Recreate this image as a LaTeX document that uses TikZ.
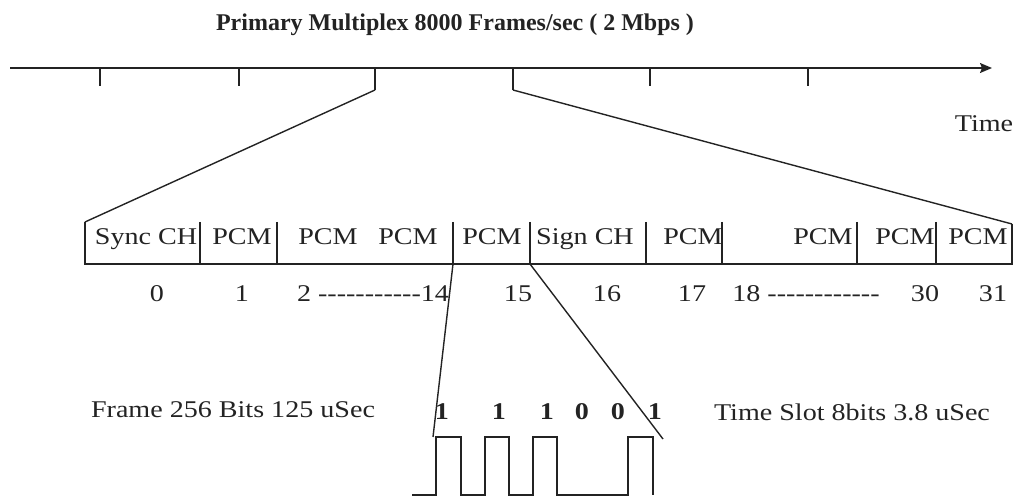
\documentclass[tikz,border=0pt]{standalone}
\usepackage{fontspec}
\setmainfont{Liberation Serif}
\newfontfamily\wideserif[FakeStretch=1.17]{Liberation Serif}
\usetikzlibrary{arrows.meta,positioning}
\definecolor{scanInk}{RGB}{35,35,35}
\newcommand\hyrun[1]{\foreach \k in {1,...,#1}{-}}

\begin{document}
\begin{tikzpicture}[x=0.5pt,y=-0.5pt, line width=0.7pt, color=scanInk,
  lbl/.style={anchor=base, inner sep=0pt, font=\wideserif\fontsize{12}{14}\selectfont},
  bit/.style={lbl, font=\wideserif\bfseries\fontsize{12}{14}\selectfont}]
\useasboundingbox (0,0) rectangle (1029,497);

\node[anchor=base, inner sep=0pt, font=\bfseries\fontsize{12}{14}\selectfont] (title) at (455,31)
  {Primary Multiplex 8000 Frames/sec ( 2 Mbps )};

% time axis with frame ticks
\coordinate (axs) at (10,68);
\coordinate (axe) at (992,68);
\draw[-{Stealth[length=6pt,width=5pt,inset=1pt]}] (axs) -- (axe);
\node[lbl] (time) at (984,132) {Time};
\foreach \n/\x/\l in {1/100/18,2/239/18,3/375/22,4/513/22,5/650/18,6/808/18}{
  \coordinate (t\n) at (\x,68);
  \coordinate (b\n) at (\x,68+\l);
  \draw (t\n) -- (b\n);
}

% one frame, 32 time slots
\coordinate (fl) at (85,222);
\coordinate (flb) at (85,264);
\coordinate (frb) at (1012,264);
\coordinate (fr) at (1012,224);
\draw (fl) -- (flb) -- (frb) -- (fr);
\foreach \x [count=\i] in {200,277,453,530,646,722,857,936}{
  \coordinate (d\i) at (\x,222);
  \coordinate (db\i) at (\x,264);
  \draw (d\i) -- (db\i);
}
\draw (b3) -- (fl);
\draw (b4) -- (fr);

\foreach \x/\s [count=\i] in {146/Sync CH,242/PCM,328/PCM,408/PCM,492/PCM,585/Sign CH,693/PCM,823/PCM,905/PCM,978/PCM}
  \node[lbl] (slot\i) at (\x,245) {\s};

\foreach \x/\s [count=\i] in {157/0,242/1,518/15,607/16,692/17,925/30,993/31}
  \node[lbl] (num\i) at (\x,302) {\s};
\node[lbl] (numa) at (373,302) {2 \hyrun{11}14};
\node[lbl] (numb) at (806,302) {18 \hyrun{12}};

% one time slot, 8 bits
\coordinate (p1) at (433,437);
\coordinate (p2) at (663,439);
\draw (db3) -- (p1);
\draw (db4) -- (p2);

\draw (412,495) -| (436,437) -| (461,495) -| (485,437) -| (509,495)
  -| (533,437) -| (557,495) -| (628,437) -| (653,495);
\foreach \x/\b [count=\i] in {442/1,499/1,547/1,582/0,618/0,655/1}
  \node[bit] (bit\i) at (\x,420) {\b};

\node[lbl] (framenote) at (233,418) {Frame 256 Bits 125 uSec};
\node[lbl] (slotnote) at (852,421) {Time Slot 8bits 3.8 uSec};
\end{tikzpicture}
\end{document}
